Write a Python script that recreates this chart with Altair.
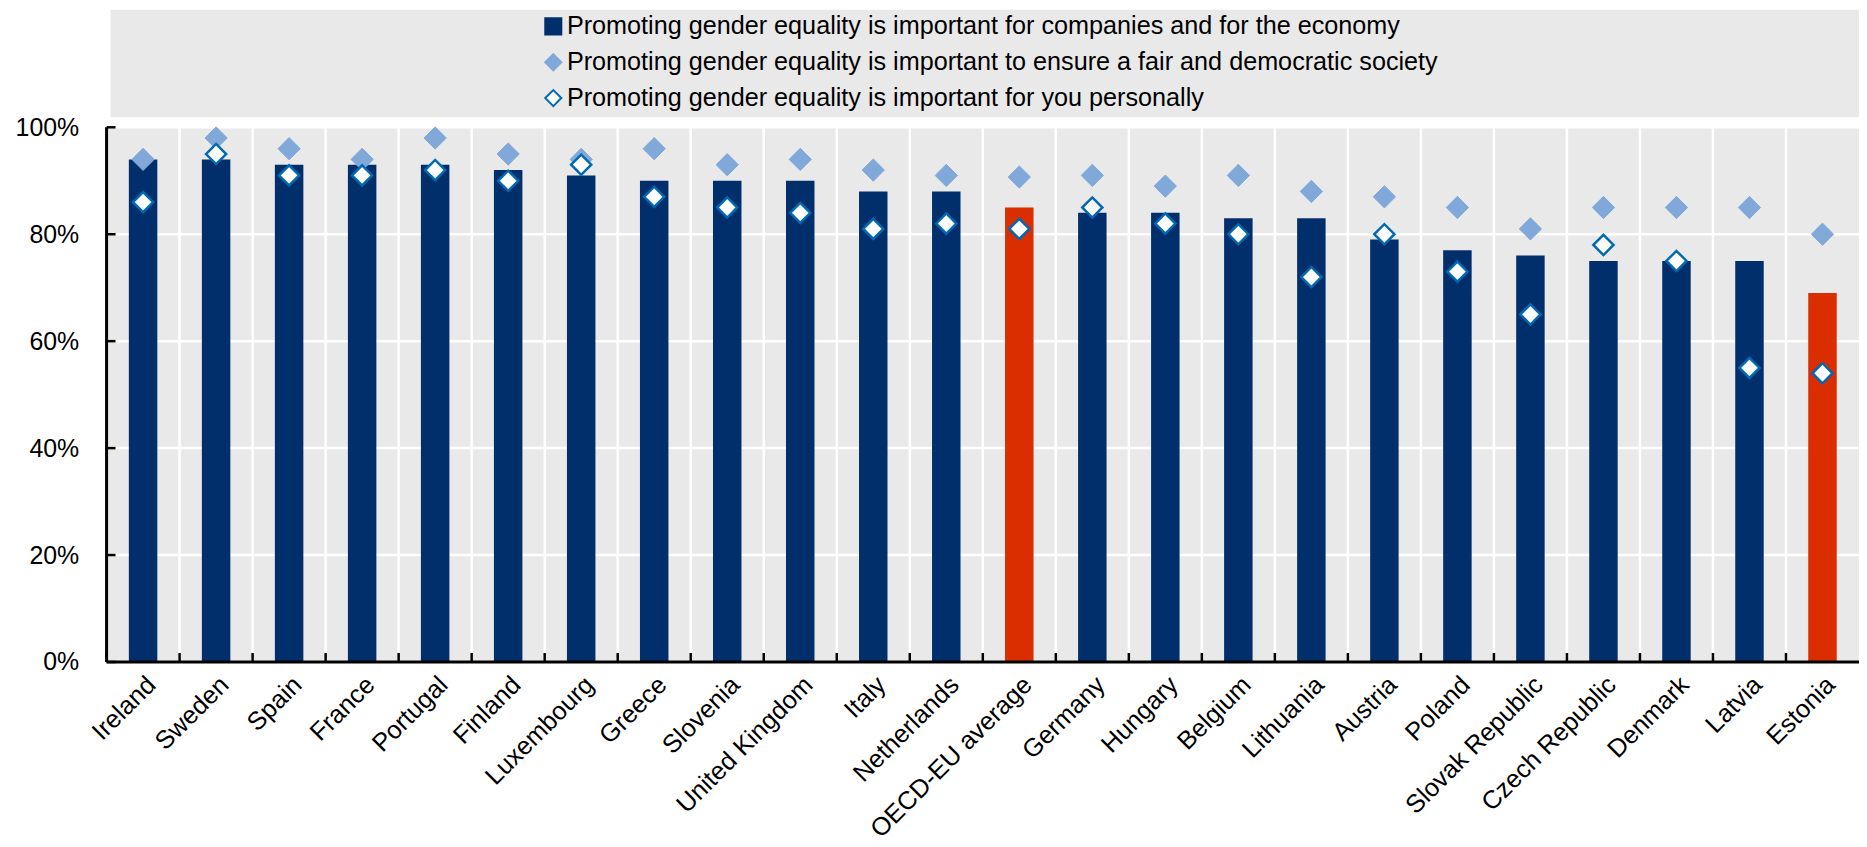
import altair as alt
import pandas as pd

countries = ["Ireland", "Sweden", "Spain", "France", "Portugal", "Finland", "Luxembourg",
             "Greece", "Slovenia", "United Kingdom", "Italy", "Netherlands", "OECD-EU average",
             "Germany", "Hungary", "Belgium", "Lithuania", "Austria", "Poland",
             "Slovak Republic", "Czech Republic", "Denmark", "Latvia", "Estonia"]
economy = [94, 94, 93, 93, 93, 92, 91, 90, 90, 90, 88, 88, 85, 84, 84, 83, 83, 79, 77, 76, 75, 75, 75, 69]
fair = [94, 98, 96, 94, 98, 95, 94, 96, 93, 94, 92, 91, 90.7, 91, 89, 91, 88, 87, 85, 81, 85, 85, 85, 80]
personal = [86, 95, 91, 91, 92, 90, 93, 87, 85, 84, 81, 82, 81, 85, 82, 80, 72, 80, 73, 65, 78, 75, 55, 54]
highlighted = ["OECD-EU average", "Estonia"]
y_ticks = [0, 20, 40, 60, 80, 100]

S1 = "Promoting gender equality is important for companies and for the economy"
S2 = "Promoting gender equality is important to ensure a fair and democratic society"
S3 = "Promoting gender equality is important for you personally"
series_names = [S1, S2, S3]

rows = []
for name, vals in zip(series_names, [economy, fair, personal]):
    for c, v in zip(countries, vals):
        rows.append({"country": c, "series": name, "value": v, "highlight": c in highlighted})
df = pd.DataFrame(rows)

FONT = "Liberation Sans"
FS = 25
XFS = 25.5
LFS = 25.3
W, H = 1760, 537
NAVY = "#002F6C"
RED = "#DA2D00"
LIGHT = "#80A8D9"
BLUE = "#0069B4"
GRAY = "#E9E9E9"

x_axis = alt.Axis(title=None, labelAngle=-45, labelAlign="right", labelBaseline="top",
                  labelPadding=10, labelFontSize=XFS, labelFont=FONT, labelColor="black",
                  labelLimit=500, ticks=False, domain=False, grid=False)
x_scale = alt.Scale(paddingInner=0, paddingOuter=0)
x_enc = alt.X("country:N", sort=countries, scale=x_scale, axis=x_axis)

y_axis = alt.Axis(title=None, values=y_ticks, labelExpr="datum.value + '%'",
                  labelFont=FONT, labelFontSize=FS, labelColor="black", labelPadding=28,
                  ticks=False, domain=False, grid=False)
y_scale = alt.Scale(domain=[0, 100])
y_enc = alt.Y("value:Q", scale=y_scale, axis=y_axis)

legend = alt.Legend(title=None, orient="none", legendX=436, legendY=-114,
                    labelFont=FONT, labelFontSize=LFS, labelColor="black",
                    symbolSize=260, symbolStrokeWidth=2, rowPadding=10, labelOffset=1,
                    padding=0, labelLimit=1400, zindex=1)
fill_scale = alt.Scale(domain=series_names, range=[NAVY, LIGHT, "white"])
shape_scale = alt.Scale(domain=series_names, range=["square", "diamond", "diamond"])
stroke_scale = alt.Scale(domain=series_names, range=[NAVY, LIGHT, BLUE])

base = alt.Chart(df)

one = pd.DataFrame({"box": [0]})
legend_box = alt.Chart(one).mark_rect(color=GRAY).encode(
    x=alt.value(4), x2=alt.value(W), y=alt.value(-118), y2=alt.value(-10))
plot_bg = alt.Chart(one).mark_rect(color=GRAY).encode(
    x=alt.value(0), x2=alt.value(W), y=alt.value(0), y2=alt.value(H))

# white gridlines (behind the bars)
ygrid = alt.Chart(pd.DataFrame({"value": y_ticks})).mark_rule(color="white", strokeWidth=2.5).encode(
    y=y_enc, x=alt.value(0), x2=alt.value(W))
xgrid = alt.Chart(pd.DataFrame({"country": countries})).mark_rule(color="white", strokeWidth=2.5).encode(
    x=alt.X("country:N", sort=countries, scale=x_scale, axis=x_axis, bandPosition=0),
    y=alt.value(0), y2=alt.value(H))

bars = base.transform_filter(alt.datum.series == S1).mark_bar(
    width=alt.RelativeBandSize(0.39)).encode(
    x=x_enc, y=y_enc,
    fill=alt.condition(alt.datum.highlight, alt.value(RED),
                       alt.Fill("series:N", scale=fill_scale, legend=legend)))

def points(series, size, sw):
    return base.transform_filter(alt.datum.series == series).mark_point(
        filled=True, opacity=1, size=size, strokeWidth=sw).encode(
        x=x_enc, y=y_enc,
        fill=alt.Fill("series:N", scale=fill_scale, legend=legend),
        shape=alt.Shape("series:N", scale=shape_scale, legend=legend),
        stroke=alt.Stroke("series:N", scale=stroke_scale, legend=legend))

fair_pts = points(S2, 500, 1)
pers_pts = points(S3, 410, 2.5)

yticks = alt.Chart(pd.DataFrame({"value": y_ticks})).mark_rule(color="black", strokeWidth=2.5).encode(
    y=y_enc, x=alt.value(0), x2=alt.value(9))
xticks = alt.Chart(pd.DataFrame({"country": countries})).mark_rule(color="black", strokeWidth=2.5).encode(
    x=alt.X("country:N", sort=countries, scale=x_scale, axis=x_axis, bandPosition=0),
    y=alt.value(H - 9), y2=alt.value(H))

# axis lines drawn above the bars
x_line = alt.Chart(pd.DataFrame({"value": [0]})).mark_rule(color="black", strokeWidth=3).encode(
    y=y_enc, x=alt.value(0), x2=alt.value(W))
y_line = alt.Chart(pd.DataFrame({"value": [0], "top": [100]})).mark_rule(
    color="black", strokeWidth=3).encode(
    y=y_enc, y2=alt.Y2("top:Q"), x=alt.value(0))

chart = alt.layer(legend_box, plot_bg, ygrid, xgrid, bars, fair_pts, pers_pts,
                  yticks, xticks, x_line, y_line).properties(
    width=W, height=H,
    autosize=alt.AutoSizeParams(type="none"),
    padding={"left": 99, "top": 118, "right": 0, "bottom": 184},
).configure_view(strokeWidth=0).configure(background="white")

chart.save("out.html", embed_options={"renderer": "svg", "actions": False})
